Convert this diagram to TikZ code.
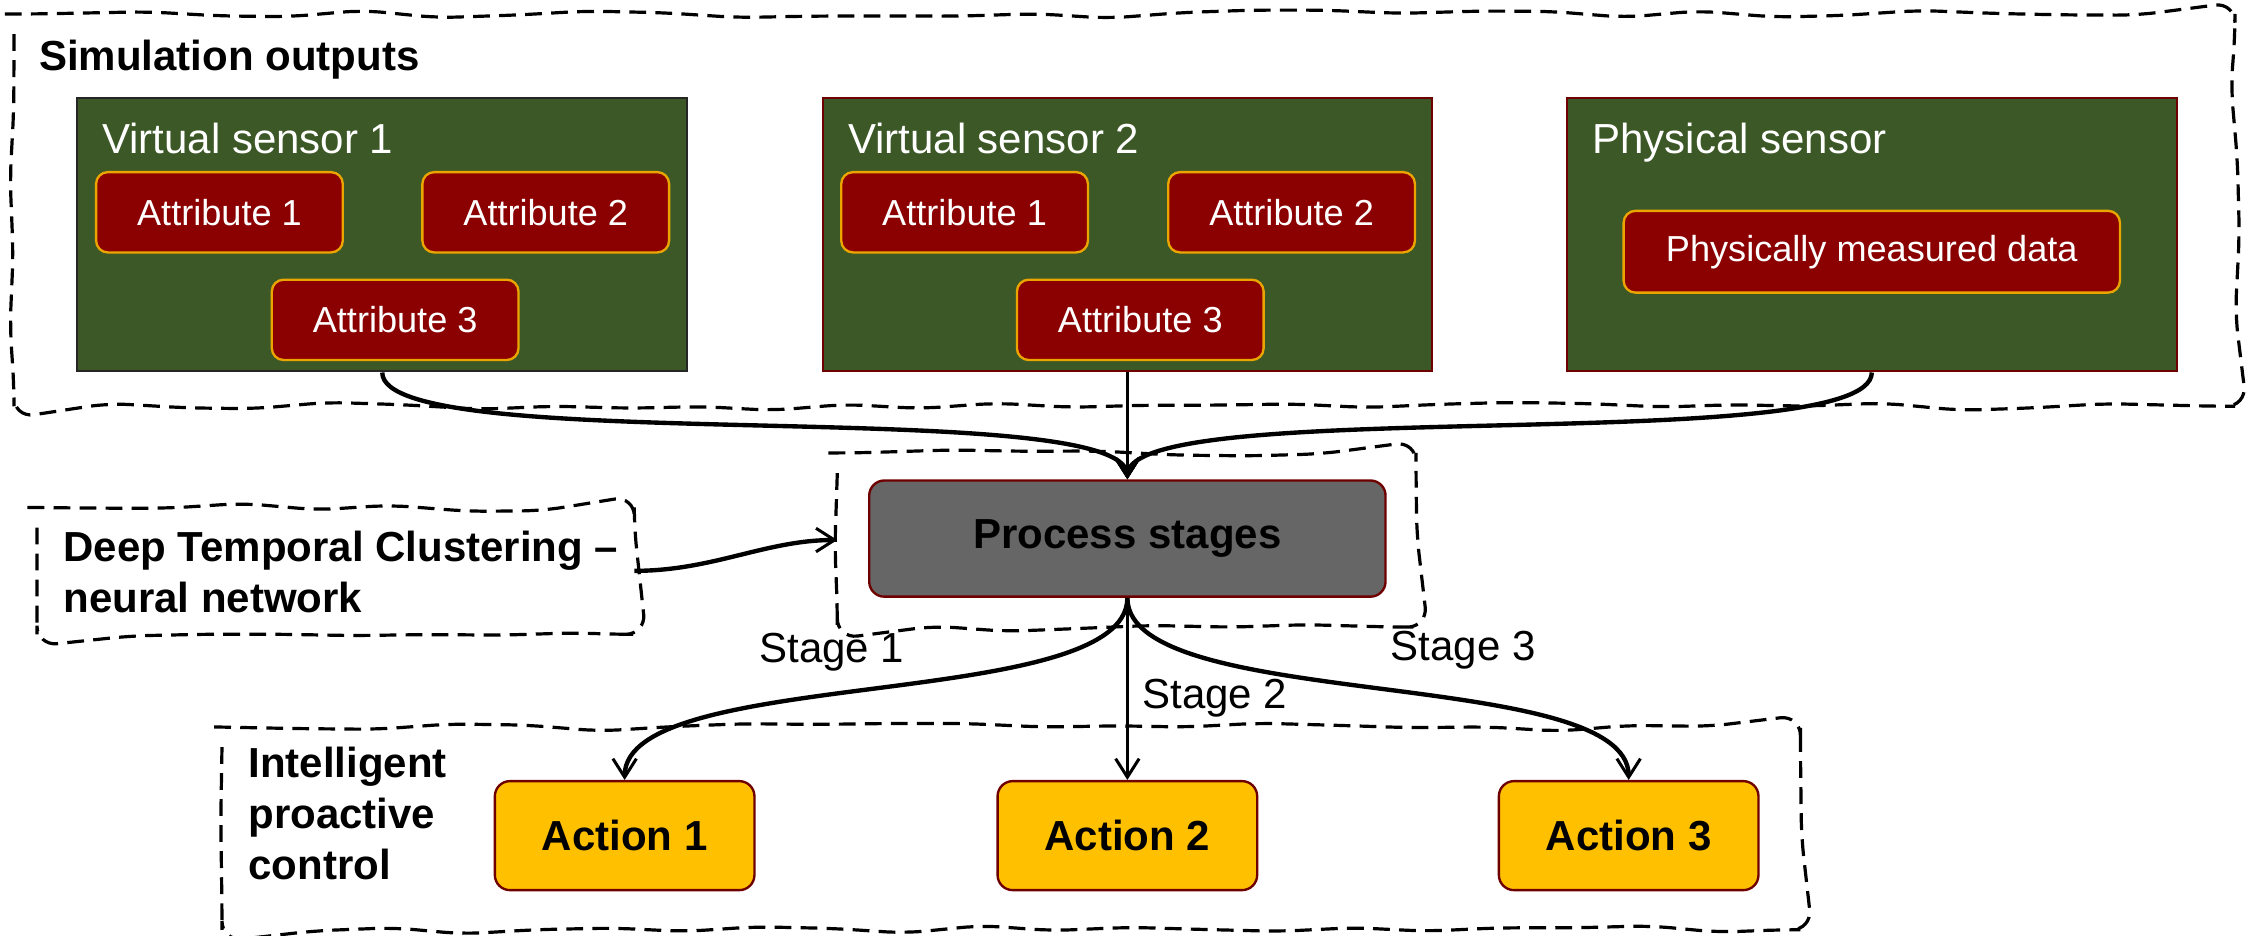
\documentclass[tikz,border=0pt]{standalone}
\usepackage{fontspec}
\setmainfont{Liberation Sans}
\usetikzlibrary{arrows.meta,decorations.pathmorphing,fit}
\definecolor{sensorgreen}{RGB}{59,88,38}
\definecolor{attrred}{RGB}{139,0,0}
\definecolor{attrgold}{RGB}{235,165,0}
\definecolor{edgered}{RGB}{110,0,0}
\definecolor{procgray}{RGB}{102,102,102}
\definecolor{actionyellow}{RGB}{255,192,0}
\begin{document}
\begin{tikzpicture}[x=0.03cm,y=-0.03cm,
  frame/.style={draw=none,inner sep=0pt},
  sketchline/.style={draw=black,line width=1.9pt,dash pattern=on 10pt off 5.5pt,
    decorate,decoration={random steps,segment length=44pt,amplitude=2.6pt},rounded corners=12pt},
  sensor/.style={draw=#1,fill=sensorgreen,line width=1.2pt,inner sep=0pt,
    minimum width=425*0.03cm,minimum height=191*0.03cm},
  attr/.style={draw=attrgold,fill=attrred,line width=1.4pt,rounded corners=7pt,inner sep=0pt,
    minimum width=172*0.03cm,minimum height=56*0.03cm,text=white,font=\fontsize{21.5pt}{26pt}\selectfont},
  sensortitle/.style={inner sep=0pt,anchor=base west,text=white,font=\fontsize{25pt}{30pt}\selectfont},
  boldlabel/.style={inner sep=0pt,anchor=base west,align=left,font=\fontsize{25pt}{30.3pt}\selectfont\bfseries},
  process/.style={draw=edgered,fill=procgray,line width=1.4pt,rounded corners=9pt,inner sep=0pt,
    minimum width=360*0.03cm,minimum height=81*0.03cm,font=\fontsize{25pt}{30pt}\selectfont\bfseries},
  action/.style={draw=edgered,fill=actionyellow,line width=1.4pt,rounded corners=9pt,inner sep=0pt,
    minimum width=181*0.03cm,minimum height=76*0.03cm,font=\fontsize{25pt}{30pt}\selectfont\bfseries},
  stagelabel/.style={inner sep=0pt,font=\fontsize{25pt}{30pt}\selectfont},
  flow/.style={line width=2.6pt,-{Straight Barb[length=11pt,width=14pt,line width=1.8pt]}},
  flowthin/.style={line width=1.9pt,-{Straight Barb[length=11pt,width=14pt,line width=1.8pt]}}
]
\pgfmathsetseed{5}
\useasboundingbox (0,0) rectangle (1568,652);

% hand-drawn dashed group frames
\node[frame,fit={(10,10) (1558,283)}] (simbox) {};
\node[frame,fit={(584,316) (987,437)}] (pbox) {};
\node[frame,fit={(26,354) (442,442)}] (dtc) {};
\node[frame,fit={(155,507) (1255,648)}] (ctrlbox) {};
\draw[sketchline] (simbox.north west) rectangle (simbox.south east);
\draw[sketchline] (pbox.north west) rectangle (pbox.south east);
\draw[sketchline] (dtc.north west) rectangle (dtc.south east);
\draw[sketchline] (ctrlbox.north west) rectangle (ctrlbox.south east);

\node[boldlabel] (simtitle) at (27,49) {Simulation outputs};

% sensors
\node[sensor=black!85] (vs1) at (266.5,163.5) {};
\node[sensor=edgered] (vs2) at (786,163.5) {};
\node[sensor=edgered] (ps) at (1305,163.5) {};
\node[sensortitle] (vs1t) at (71,107) {Virtual sensor 1};
\node[sensortitle] (vs2t) at (591,107) {Virtual sensor 2};
\node[sensortitle] (pst) at (1110,107) {Physical sensor};

\node[attr] (a11) at (153,148) {Attribute 1};
\node[attr] (a12) at (380.5,148) {Attribute 2};
\node[attr] (a13) at (275.5,223) {Attribute 3};
\node[attr] (a21) at (672.5,148) {Attribute 1};
\node[attr] (a22) at (900.5,148) {Attribute 2};
\node[attr] (a23) at (795,223) {Attribute 3};
\node[attr,minimum width=346*0.03cm,minimum height=57*0.03cm] (pmd) at (1305,175.5) {Physically measured data};

% processing
\node[process] (proc) at (786,375.5) {Process stages};
% multi-line labels: the base anchor sits on the last line
\node[boldlabel] (dtctext) at (44,427) {Deep Temporal Clustering --\\neural network};

% control
\node[boldlabel] (ctrltext) at (173,613) {Intelligent\\proactive\\control};
\node[action] (act1) at (435.5,582.6) {Action 1};
\node[action] (act2) at (786,582.6) {Action 2};
\node[action] (act3) at (1135.5,582.6) {Action 3};

\node[stagelabel] (st1) at (580,455) {Stage 1};
\node[stagelabel] (st2) at (847,487) {Stage 2};
\node[stagelabel] (st3) at (1020,453) {Stage 3};

% connectors
\draw[flow] (vs1.south) .. controls +(0,60) and +(0,-60) .. (proc.north);
\draw[flowthin] (vs2.south) -- (proc.north);
\draw[flow] (ps.south) .. controls +(0,60) and +(0,-60) .. (proc.north);
\draw[flow] (dtc.east) .. controls +(55,0) and +(-50,0) .. (pbox.west);
\draw[flow] (proc.south) .. controls +(0,80) and +(0,-80) .. (act1.north);
\draw[flowthin] (proc.south) -- (act2.north);
\draw[flow] (proc.south) .. controls +(0,80) and +(0,-80) .. (act3.north);
\end{tikzpicture}
\end{document}
